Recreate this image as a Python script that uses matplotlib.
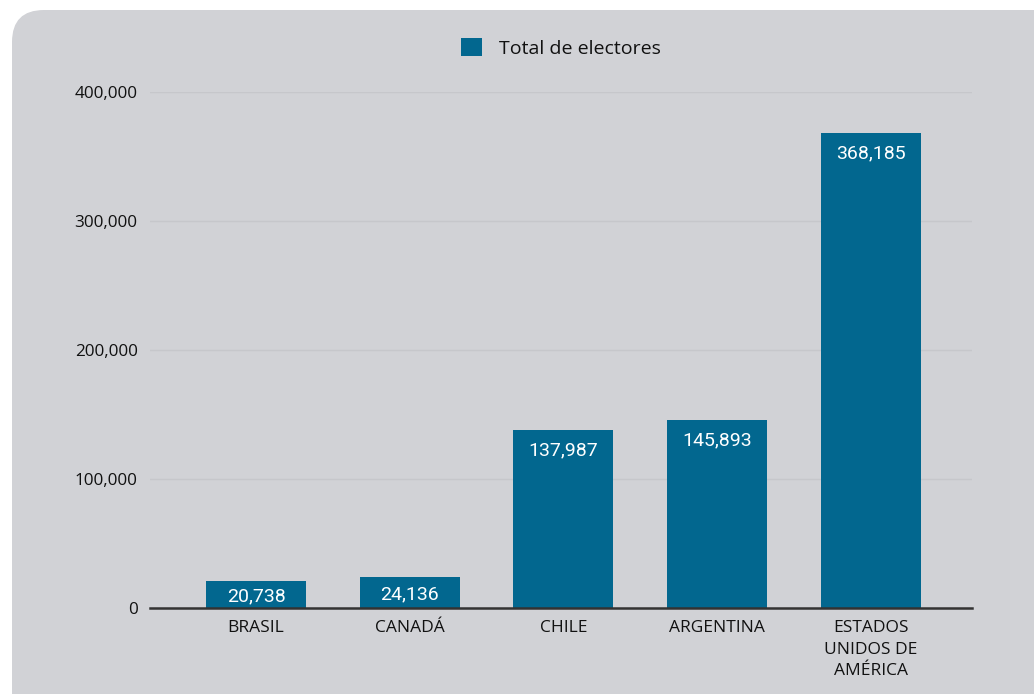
import matplotlib
matplotlib.use("Agg")
import matplotlib.pyplot as plt
from matplotlib.patches import FancyBboxPatch
from matplotlib.transforms import IdentityTransform
from matplotlib.ticker import FuncFormatter

# data
paises = ["BRASIL", "CANADÁ", "CHILE", "ARGENTINA", "ESTADOS\nUNIDOS DE\nAMÉRICA"]
electores = [20738, 24136, 137987, 145893, 368185]
yticks = [0, 100000, 200000, 300000, 400000]
serie = "Total de electores"

bar_color = "#02678F"
bg_color = "#D1D2D6"

W, H = 1034, 694
fig = plt.figure(figsize=(W / 100, H / 100), dpi=100)
fig.patch.set_facecolor("white")

# rounded grey card behind the chart (pixel coords, origin bottom-left)
card = FancyBboxPatch((12, -60), W + 60, H - 10 + 60,
                      boxstyle="round,pad=0,rounding_size=32",
                      transform=IdentityTransform(), facecolor=bg_color,
                      edgecolor="none", zorder=-5)
fig.patches.append(card)

ax = fig.add_axes([150 / W, 1 - 608 / H, (972 - 150) / W, (608 - 92) / H])
ax.set_facecolor("none")
ax.set_zorder(2)

x = list(range(len(paises)))
bars = ax.bar(x, electores, width=0.65, color=bar_color, zorder=3, label=serie)

for xi, v in zip(x, electores):
    if v < 40000:
        # short bars: label centred in the bar
        ax.text(xi, v / 2, f"{v:,}", ha="center", va="center_baseline",
                color="white", fontsize=14, family="Roboto", zorder=4)
    else:
        ax.annotate(f"{v:,}", (xi, v), xytext=(0, -8.5), textcoords="offset points",
                    ha="center", va="top", color="white", fontsize=14,
                    family="Roboto", zorder=4)

ax.set_ylim(0, 400000)
ax.set_xlim(-0.69, 4.66)
ax.set_yticks(yticks)
ax.yaxis.set_major_formatter(FuncFormatter(lambda v, p: f"{int(v):,}"))
ax.set_xticks(x)
ax.set_xticklabels(paises, family="Open Sans", fontsize=12.5, linespacing=1.42)
for lbl in ax.get_yticklabels():
    lbl.set_family("Open Sans")
    lbl.set_fontsize(12.3)

ax.tick_params(axis="both", length=0, colors="#111111")
ax.tick_params(axis="y", pad=9)
ax.tick_params(axis="x", pad=9)
ax.grid(axis="y", color="#C6C7CB", linewidth=1, zorder=1)
for s in ["top", "right", "left"]:
    ax.spines[s].set_visible(False)
ax.spines["bottom"].set_color("#333333")
ax.spines["bottom"].set_linewidth(1.8)
ax.spines["bottom"].set_zorder(5)

leg = ax.legend(loc="center", bbox_to_anchor=(0.5, 1 + 44 / 516), frameon=False,
                handlelength=1.05, handleheight=1.05, handletextpad=0.9,
                prop={"family": "Open Sans", "size": 14})
for t in leg.get_texts():
    t.set_color("#111111")

fig.savefig("out.png", dpi=100, facecolor=fig.get_facecolor())
